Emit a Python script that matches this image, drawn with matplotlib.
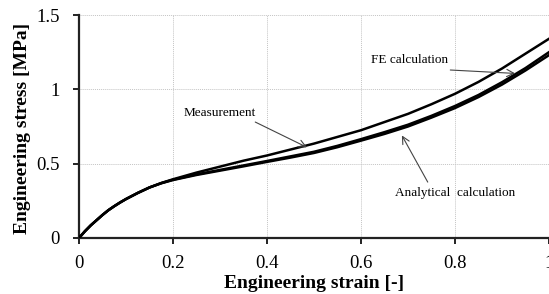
import numpy as np
import matplotlib
matplotlib.use("Agg")
import matplotlib.pyplot as plt

# ---------------------------------------------------------------------------
# Data
# ---------------------------------------------------------------------------
strain = [0.0, 0.0125, 0.025, 0.0375, 0.05, 0.0625, 0.075, 0.0875, 0.1,
          0.125, 0.15, 0.175, 0.2, 0.25, 0.3, 0.35, 0.4, 0.45, 0.5, 0.55,
          0.6, 0.65, 0.7, 0.75, 0.8, 0.85, 0.9, 0.95, 1.0]

stress_meas = [0.0, 0.045, 0.085, 0.12, 0.155, 0.187, 0.214, 0.239, 0.262,
               0.303, 0.34, 0.37, 0.395, 0.44, 0.48, 0.52, 0.555, 0.595,
               0.635, 0.68, 0.725, 0.78, 0.835, 0.90, 0.97, 1.05, 1.14,
               1.24, 1.34]

stress_fe = [0.0, 0.045, 0.085, 0.12, 0.155, 0.187, 0.214, 0.239, 0.262,
             0.303, 0.34, 0.369, 0.392, 0.428, 0.458, 0.488, 0.518, 0.549,
             0.58, 0.62, 0.665, 0.712, 0.762, 0.822, 0.888, 0.962, 1.048,
             1.143, 1.25]

stress_anal = [0.0, 0.045, 0.085, 0.12, 0.155, 0.187, 0.214, 0.239, 0.262,
               0.303, 0.34, 0.368, 0.39, 0.424, 0.453, 0.482, 0.512, 0.541,
               0.572, 0.611, 0.655, 0.70, 0.75, 0.81, 0.874, 0.948, 1.032,
               1.127, 1.23]

x_ticks = [0, 0.2, 0.4, 0.6, 0.8, 1]
x_ticklabels = ["0", "0.2", "0.4", "0.6", "0.8", "1"]
y_ticks = [0, 0.5, 1, 1.5]
y_ticklabels = ["0", "0.5", "1", "1.5"]

# ---------------------------------------------------------------------------
# Style
# ---------------------------------------------------------------------------
plt.rcParams.update({
    "font.family": "Liberation Serif",
    "font.size": 13,
})

fig = plt.figure(figsize=(5.49, 2.94), dpi=100)
ax = fig.add_axes([79 / 549, 56 / 294, 470 / 549, 223 / 294])

for s in (stress_meas, stress_fe, stress_anal):
    ax.plot(strain, s, color="black", lw=1.8, zorder=3,
            solid_joinstyle="round")

ax.set_xlim(0, 1)
ax.set_ylim(0, 1.5)
ax.set_xticks(x_ticks)
ax.set_xticklabels(x_ticklabels)
ax.set_yticks(y_ticks)
ax.set_yticklabels(y_ticklabels)

ax.grid(True, color="#c4c4c4", linestyle=(0, (1, 1)), lw=0.7, zorder=1)
for side in ("top", "right"):
    ax.spines[side].set_visible(False)
for side in ("left", "bottom"):
    ax.spines[side].set_linewidth(1.6)
    ax.spines[side].set_color("#222222")
ax.tick_params(direction="out", length=4, width=1.4, color="#222222",
               labelsize=13.5)
ax.tick_params(axis="x", pad=8)
ax.tick_params(axis="y", pad=10)

ax.set_xlabel("Engineering strain [-]", fontweight="bold", fontsize=14)
ax.xaxis.set_label_coords(0.5, -0.165)
ax.set_ylabel("Engineering stress [MPa]", fontweight="bold", fontsize=14)
ax.yaxis.set_label_coords(-0.102, 0.49)

arrow = dict(arrowstyle="->", color="#444444", lw=0.8, shrinkA=0, shrinkB=0)
ax.text(0.30, 0.84, "Measurement", ha="center", va="center", fontsize=9.5)
ax.annotate("", xy=(0.485, 0.61), xytext=(0.375, 0.78), arrowprops=arrow)
ax.text(0.704, 1.195, "FE calculation", ha="center", va="center",
        fontsize=9.5)
ax.annotate("", xy=(0.928, 1.107), xytext=(0.79, 1.13), arrowprops=arrow)
ax.text(0.80, 0.30, "Analytical  calculation", ha="center", va="center",
        fontsize=9.5)
ax.annotate("", xy=(0.687, 0.69), xytext=(0.742, 0.376), arrowprops=arrow)

fig.savefig("out.png", dpi=100)
